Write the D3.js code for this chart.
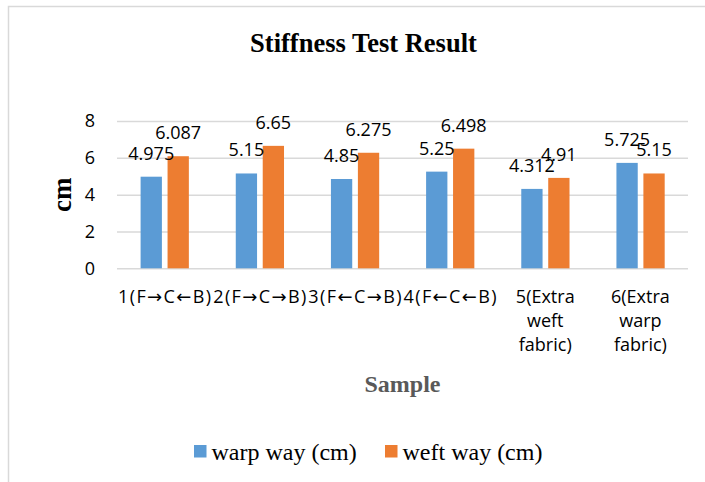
<!DOCTYPE html>
<html>
<head>
<meta charset="utf-8">
<script src="https://cdn.jsdelivr.net/npm/d3@7"></script>
<style>
    body { margin: 0; background: #fff; }
    .sans { font-family: "Open Sans", "DejaVu Sans", sans-serif; }
    .serif { font-family: "Liberation Serif", "Times New Roman", serif; }
</style>
</head>
<body>
<div class="chart"></div>
<script>
// data
const categories = ["1(F→C←B)", "2(F→C→B)", "3(F←C→B)", "4(F←C←B)", "5(Extra weft fabric)", "6(Extra warp fabric)"];
const warpWay = [4.975, 5.15, 4.85, 5.25, 4.312, 5.725];
const weftWay = [6.087, 6.65, 6.275, 6.498, 4.91, 5.15];
const seriesNames = ["warp way (cm)", "weft way (cm)"];
const yTicks = [0, 2, 4, 6, 8];

const width = 705, height = 482;
const colors = ["#5B9BD5", "#ED7D31"];
const gridColor = "#D9D9D9";

const svg = d3.select(".chart")
    .append("svg")
    .attr("width", width)
    .attr("height", height);

// #region frame
svg.append("rect")
    .attr("x", 8.5)
    .attr("y", 6.5)
    .attr("width", 720)
    .attr("height", 500)
    .attr("fill", "none")
    .attr("stroke", gridColor)
    .attr("stroke-width", 1.5);
// #endregion

// #region scales
const plot = { left: 117, right: 688, top: 121, bottom: 268.3 };

const x0 = d3.scaleBand()
    .domain(categories)
    .range([plot.left, plot.right]);

const x1 = d3.scaleBand()
    .domain(seriesNames)
    .range([x0.bandwidth() * 0.248, x0.bandwidth() * 0.755])
    .paddingInner(0.21);

const y = d3.scaleLinear()
    .domain([0, 8])
    .range([plot.bottom, plot.top]);
// #endregion

// #region axes
const gY = svg.append("g")
    .attr("transform", "translate(" + plot.left + ",0)")
    .call(d3.axisLeft(y).tickValues(yTicks).tickSize(-(plot.right - plot.left)).tickPadding(22));
gY.select(".domain").remove();
gY.selectAll("line").attr("stroke", gridColor).attr("stroke-width", 1.5);
gY.selectAll("text")
    .attr("class", "sans")
    .attr("font-size", 18)
    .attr("fill", "#000");

const gX = svg.append("g")
    .attr("transform", "translate(0," + plot.bottom + ")")
    .call(d3.axisBottom(x0).tickSize(0));
gX.select(".domain").remove();
gX.selectAll("text").each(function (d) {
    const t = d3.select(this)
        .attr("class", "sans")
        .attr("font-size", 18)
        .attr("fill", "#000")
        .attr("y", 0)
        .attr("dy", null)
        .text(null);
    const words = d.split(" ");
    words.forEach((w, i) => {
        const ts = t.append("tspan")
            .attr("x", 0)
            .attr("y", 34.7 + i * 24)
            .text(w);
        // single-line labels fill the whole band, as in the source chart
        if (words.length == 1) {
            ts.attr("textLength", x0.bandwidth() - 2).attr("lengthAdjust", "spacing");
        }
    });
});
// #endregion

// #region bars
const rows = categories.map((c, i) => ({ Label: c, values: [warpWay[i], weftWay[i]] }));

const gGroups = svg.append("g")
    .selectAll("g")
    .data(rows)
    .enter()
    .append("g")
    .attr("transform", d => "translate(" + x0(d.Label) + ",0)");

gGroups.selectAll("rect")
    .data(d => d.values.map((v, k) => ({ name: seriesNames[k], value: v, k: k })))
    .enter()
    .append("rect")
    .attr("x", d => x1(d.name))
    .attr("y", d => y(d.value))
    .attr("width", x1.bandwidth())
    .attr("height", d => y(0) - y(d.value))
    .attr("fill", d => colors[d.k]);

gGroups.selectAll("text")
    .data(d => d.values.map((v, k) => ({ name: seriesNames[k], value: v, k: k })))
    .enter()
    .append("text")
    .attr("class", "sans")
    .attr("font-size", 18)
    .attr("text-anchor", "middle")
    .attr("x", d => x1(d.name) + x1.bandwidth() / 2)
    .attr("y", d => y(d.value) - 17)
    .text(d => d.value);
// #endregion

// #region titles
svg.append("text")
    .attr("class", "serif")
    .attr("x", 363.5)
    .attr("y", 52.3)
    .attr("text-anchor", "middle")
    .attr("font-size", 26.5)
    .attr("font-weight", "bold")
    .text("Stiffness Test Result");

svg.append("text")
    .attr("class", "serif")
    .attr("transform", "translate(71," + ((plot.top + plot.bottom) / 2) + ") rotate(-90)")
    .attr("text-anchor", "middle")
    .attr("font-size", 27)
    .attr("font-weight", "bold")
    .text("cm");

svg.append("text")
    .attr("class", "serif")
    .attr("x", 402.5)
    .attr("y", 391.5)
    .attr("text-anchor", "middle")
    .attr("font-size", 24)
    .attr("font-weight", "bold")
    .attr("fill", "#595959")
    .text("Sample");
// #endregion

// #region legend
const legendX = [194, 385];
const gLegend = svg.append("g");
gLegend.selectAll("rect")
    .data(seriesNames)
    .enter()
    .append("rect")
    .attr("x", (d, i) => legendX[i])
    .attr("y", 445)
    .attr("width", 12.5)
    .attr("height", 12.5)
    .attr("fill", (d, i) => colors[i]);
gLegend.selectAll("text")
    .data(seriesNames)
    .enter()
    .append("text")
    .attr("class", "serif")
    .attr("x", (d, i) => legendX[i] + 17.5)
    .attr("y", 460)
    .attr("font-size", 24)
    .text(d => d);
// #endregion
</script>
</body>
</html>
